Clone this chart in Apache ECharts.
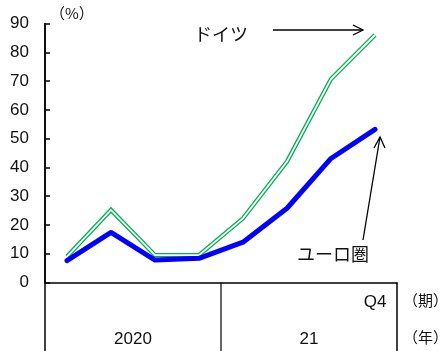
<!DOCTYPE html>
<html>
<head>
<meta charset="utf-8">
<script src="https://cdn.jsdelivr.net/npm/echarts@6/dist/echarts.min.js"></script>
<style>
  html, body { margin: 0; padding: 0; background: #fff; }
  #chart { width: 442px; height: 351px; }
</style>
</head>
<body>
<div id="chart"></div>
<script>
// Quarterly categories (2020 Q1 – 2021 Q4)
const quarters = ['Q1', 'Q2', 'Q3', 'Q4', 'Q1', 'Q2', 'Q3', 'Q4'];
const years = ['2020', '21'];
// Series values (%)
const germany  = [9.0, 25.2, 9.5, 9.5, 22.3, 42.0, 70.7, 86.0];
const eurozone = [7.6, 17.4, 7.8, 8.4, 14.0, 25.8, 43.1, 53.2];
// Y-axis range
const yMin = 0, yMax = 90, yStep = 10;

const NUM_FONT = '"Liberation Sans", "DejaVu Sans", sans-serif';
const JP_FONT = '"Noto Sans CJK JP", sans-serif';

const gridL = 45, gridR = 45, gridT = 23.5, gridB = 68.5;
const W = 442, H = 351;
const axisY = H - gridB;

const chart = echarts.init(document.getElementById('chart'), null, { renderer: 'canvas' });

const black = '#000';
const option = {
  animation: false,
  backgroundColor: '#fff',
  grid: { left: gridL, right: gridR, top: gridT, bottom: gridB },
  xAxis: [
    {
      type: 'category',
      data: quarters,
      boundaryGap: true,
      axisLine: { show: true, lineStyle: { color: black, width: 1.5 } },
      axisTick: { show: false },
      axisLabel: {
        interval: 0,
        margin: 11,
        fontFamily: NUM_FONT,
        fontSize: 17,
        color: '#111',
        formatter: (v, i) => (i === quarters.length - 1 ? v : '')
      },
      splitLine: { show: false }
    },
    {
      type: 'category',
      data: years,
      position: 'bottom',
      gridIndex: 0,
      boundaryGap: true,
      axisLine: { show: false },
      axisTick: { show: false },
      axisLabel: {
        interval: 0,
        margin: 48,
        fontFamily: NUM_FONT,
        fontSize: 17,
        color: '#111'
      }
    }
  ],
  yAxis: {
    type: 'value',
    min: yMin,
    max: yMax,
    interval: yStep,
    axisLine: { show: true, lineStyle: { color: black, width: 1.5 } },
    axisTick: { show: true, inside: true, length: 5, lineStyle: { color: black, width: 1.5 } },
    axisLabel: { margin: 16, fontFamily: NUM_FONT, fontSize: 17, color: '#111' },
    splitLine: { show: false }
  },
  series: [
    {
      name: 'ドイツ',
      type: 'line',
      data: germany,
      symbol: 'none',
      z: 3,
      lineStyle: { color: '#00b050', width: 4.4, join: 'miter' }
    },
    {
      name: 'ドイツ_inner',
      type: 'line',
      data: germany,
      symbol: 'none',
      z: 4,
      lineStyle: { color: '#fff', width: 1.8, join: 'miter' }
    },
    {
      name: 'ユーロ圏',
      type: 'line',
      data: eurozone,
      symbol: 'none',
      z: 5,
      lineStyle: { color: '#0000ff', width: 5, join: 'round', cap: 'round' }
    }
  ],
  graphic: [
    // table frame below the axis
    { type: 'line', shape: { x1: gridL, y1: gridT, x2: gridL, y2: H }, style: { stroke: black, lineWidth: 1.5 }, z: 10 },
    { type: 'line', shape: { x1: (gridL + W - gridR) / 2, y1: axisY, x2: (gridL + W - gridR) / 2, y2: H }, style: { stroke: black, lineWidth: 1.2 }, z: 10 },
    { type: 'line', shape: { x1: W - gridR, y1: axisY, x2: W - gridR, y2: H }, style: { stroke: black, lineWidth: 1.5 }, z: 10 },
    // unit labels
    { type: 'text', left: 50, top: 6, style: { text: '（%）', font: '15px ' + JP_FONT, fill: '#111' } },
    { type: 'text', left: 403, top: 293, style: { text: '（期）', font: '15px ' + JP_FONT, fill: '#111' } },
    { type: 'text', left: 403, top: 330, style: { text: '（年）', font: '15px ' + JP_FONT, fill: '#111' } },
    // series annotations
    { type: 'text', left: 194, top: 25, style: { text: 'ドイツ', font: '18px ' + JP_FONT, fill: '#111' } },
    { type: 'polyline', shape: { points: [[273, 30], [363, 30]] }, style: { stroke: black, lineWidth: 1.3, fill: null } },
    { type: 'polyline', shape: { points: [[353, 25], [363, 30], [353, 35]] }, style: { stroke: black, lineWidth: 1.3, fill: null } },
    { type: 'text', left: 297, top: 245, style: { text: 'ユーロ圏', font: '18px ' + JP_FONT, fill: '#111' } },
    { type: 'polyline', shape: { points: [[363, 240], [380, 137]] }, style: { stroke: black, lineWidth: 1.3, fill: null } },
    { type: 'polyline', shape: { points: [[374, 148], [380, 137], [385, 148]] }, style: { stroke: black, lineWidth: 1.3, fill: null } }
  ]
};

chart.setOption(option);
</script>
</body>
</html>
